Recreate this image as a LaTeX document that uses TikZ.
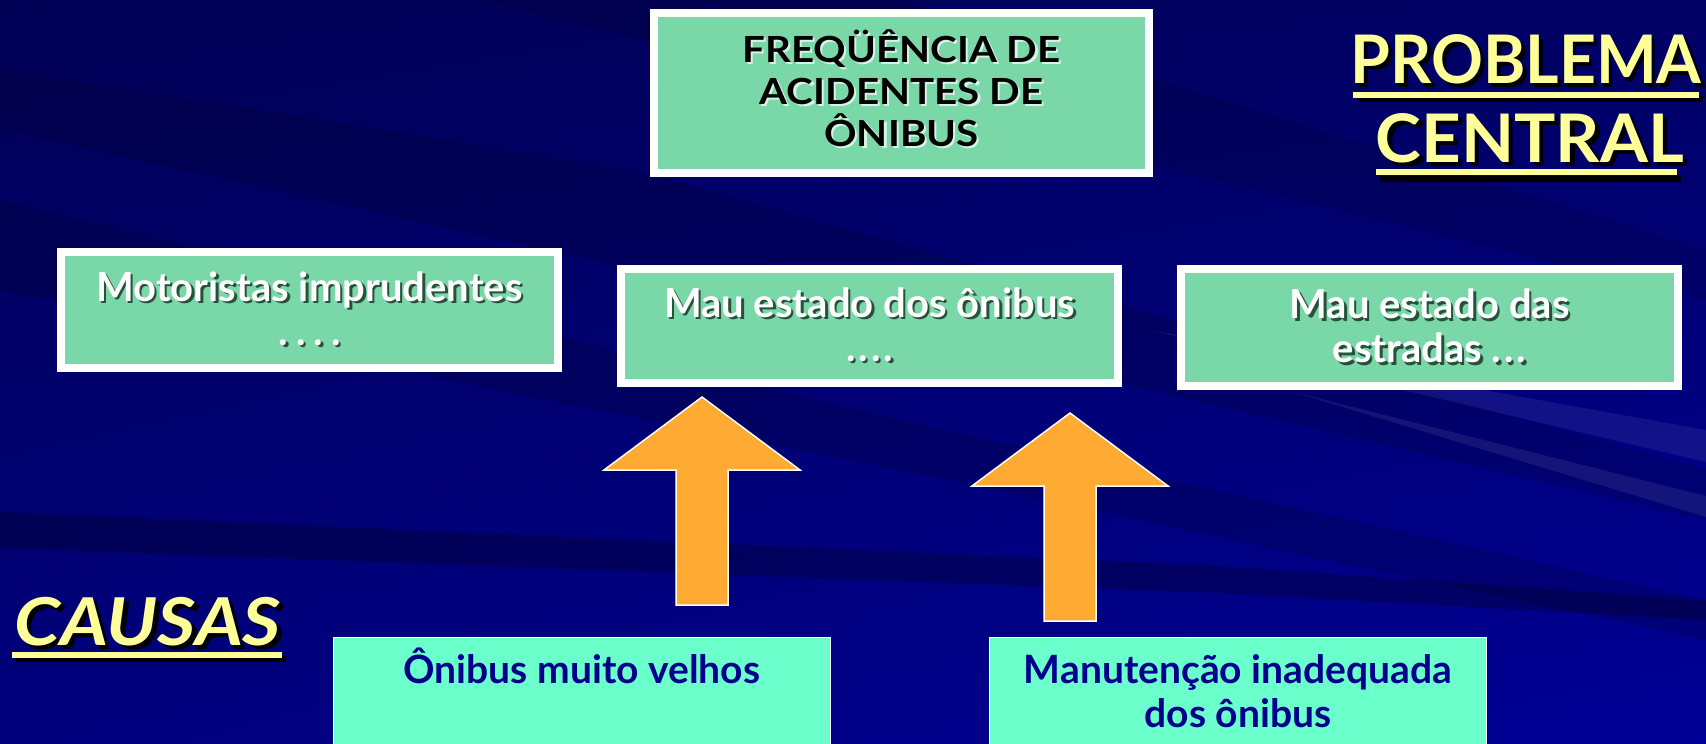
\documentclass[tikz,border=0pt]{standalone}
\usepackage{fontspec}
\setmainfont{Lato}
\usetikzlibrary{calc,shadings}
\definecolor{bgUL}{RGB}{0,0,85}
\definecolor{bgUR}{RGB}{0,0,100}
\definecolor{bgLL}{RGB}{0,0,125}
\definecolor{bgLR}{RGB}{0,0,150}
\definecolor{boxgreen}{RGB}{122,216,168}
\definecolor{aqua}{RGB}{107,255,204}
\definecolor{navytext}{RGB}{0,0,140}
\definecolor{orangeA}{RGB}{255,170,51}
\definecolor{yellowT}{RGB}{255,255,153}
\definecolor{shadowG}{RGB}{40,80,60}
\newcommand{\sht}[4]{\makebox[0pt][l]{\hspace*{#3}\raisebox{-#3}{\textcolor{#2}{#4}}}\textcolor{#1}{#4}}
\newcommand{\dts}[1]{.\kern#1.\kern#1.\kern#1.}
\newcommand{\tdts}[1]{.\kern#1.\kern#1.}
\newcommand{\uparr}[2]{%
  \draw[blockarrow] (#1) -- ($(#1)+(98,73)$) -- ($(#1)+(26,73)$) -- ($(#2)+(26,0)$) -- ($(#2)+(-26,0)$) -- ($(#1)+(-26,73)$) -- ($(#1)+(-98,73)$) -- cycle;}
\begin{document}
\begin{tikzpicture}[x=1pt,y=-1pt,
  greenbox/.style={draw=white, line width=8pt, fill=boxgreen, inner sep=0pt},
  aquabox/.style={draw=white, line width=1.5pt, fill=aqua, inner sep=0pt},
  blockarrow/.style={fill=orangeA, draw=white, line width=1.5pt, line join=miter},
  boxtext/.style={font=\fontsize{40}{44}\selectfont\bfseries, align=center},
  causetext/.style={font=\fontsize{39}{44}\selectfont\bfseries, text=navytext, inner sep=0pt, anchor=base},
  bigtext/.style={font=\fontsize{67}{70}\selectfont\bfseries, inner sep=0pt, anchor=base},
  uline/.style={fill=yellowT}
]
\useasboundingbox (0,0) rectangle (1706,744);
\clip (0,0) rectangle (1706,744);
% background
\shade[upper left=bgUL, upper right=bgUR, lower left=bgLL, lower right=bgLR] (0,0) rectangle (1706,744);
\fill[black, opacity=0.14] (0,69) -- (640,171) -- (1706,470) -- (1706,520) -- (640,271) -- (0,129) -- cycle;
\fill[black, opacity=0.15] (0,200) -- (900,420) -- (1706,600) -- (1706,640) -- (900,470) -- (0,290) -- cycle;
\fill[black, opacity=0.12] (480,0) -- (1706,300) -- (1706,250) -- (900,0) -- cycle;
\fill[black, opacity=0.25] (0,512) -- (1200,565) -- (1706,600) -- (1706,620) -- (1200,592) -- (0,548) -- cycle;
\fill[white, opacity=0.08] (1293,392) -- (1706,496) -- (1706,517) -- cycle;
\fill[white, opacity=0.07] (1150,330) -- (1706,430) -- (1706,462) -- cycle;

% central problem
\node[greenbox, minimum width=495pt, minimum height=160pt] (prob) at (901.5,93) {};
\node[font=\fontsize{36}{42}\selectfont\bfseries, align=center, inner sep=0pt] (probt) at ($(prob.center)+(0,-4)$)
 {\scalebox{1.12}[1]{\sht{black}{white!70!boxgreen}{2pt}{FREQÜÊNCIA DE}}\\ \scalebox{1.12}[1]{\sht{black}{white!70!boxgreen}{2pt}{ACIDENTES DE}}\\ \scalebox{1.12}[1]{\sht{black}{white!70!boxgreen}{2pt}{ÔNIBUS}}};

% first-level causes
\node[greenbox, boxtext, minimum width=497pt, minimum height=116pt] (m1) at (309.5,310)
 {\sht{white}{shadowG}{2.5pt}{Motoristas imprudentes}\\ \sht{white}{shadowG}{2.5pt}{\dts{8pt}}};
\node[greenbox, boxtext, minimum width=497pt, minimum height=114pt] (m2) at (869.5,326)
 {\sht{white}{shadowG}{2.5pt}{Mau estado dos ônibus}\\ \sht{white}{shadowG}{2.5pt}{\dts{3pt}}};
\node[greenbox, boxtext, minimum width=497pt, minimum height=117pt] (m3) at (1429.5,327.5)
 {\sht{white}{shadowG}{2.5pt}{Mau estado das}\\ \sht{white}{shadowG}{2.5pt}{estradas \tdts{3pt}}};

% second-level causes
\node[aquabox, minimum width=497pt, minimum height=150pt, anchor=north] (c1) at (582,636.75) {};
\node[aquabox, minimum width=497pt, minimum height=150pt, anchor=north] (c2) at (1238,636.75) {};
\node[causetext] (c1t) at (582,683) {Ônibus muito velhos};
\node[causetext] (c2t) at (1238,683) {Manutenção inadequada};
\node[causetext] (c2u) at (1238,727) {dos ônibus};

% arrows
\coordinate (a1tip) at (702,397);
\coordinate (a1end) at (702,605);
\coordinate (a2tip) at (1070,413);
\coordinate (a2end) at (1070,621);
\uparr{a1tip}{a1end}
\uparr{a2tip}{a2end}

% labels
\node[bigtext] (lp1) at (1526,83) {\scalebox{0.96}[1]{\sht{yellowT}{black}{4pt}{PROBLEMA}}};
\node[bigtext] (lp2) at (1530,162) {\scalebox{1.03}[1]{\sht{yellowT}{black}{4pt}{CENTRAL}}};
\node[bigtext, font=\fontsize{66}{70}\selectfont\bfseries\itshape] (lc) at (147.5,645) {\scalebox{1.12}[1]{\sht{yellowT}{black}{4pt}{CAUSAS}}};
\fill[black] (1357,96) rectangle (1703,102);
\fill[uline] (1353,92) rectangle (1699,98);
\fill[black] (1380,176) rectangle (1681,182);
\fill[uline] (1376,169) rectangle (1677,175);
\fill[black] (16,656) rectangle (286,662);
\fill[uline] (12,652) rectangle (282,658);
\end{tikzpicture}
\end{document}
